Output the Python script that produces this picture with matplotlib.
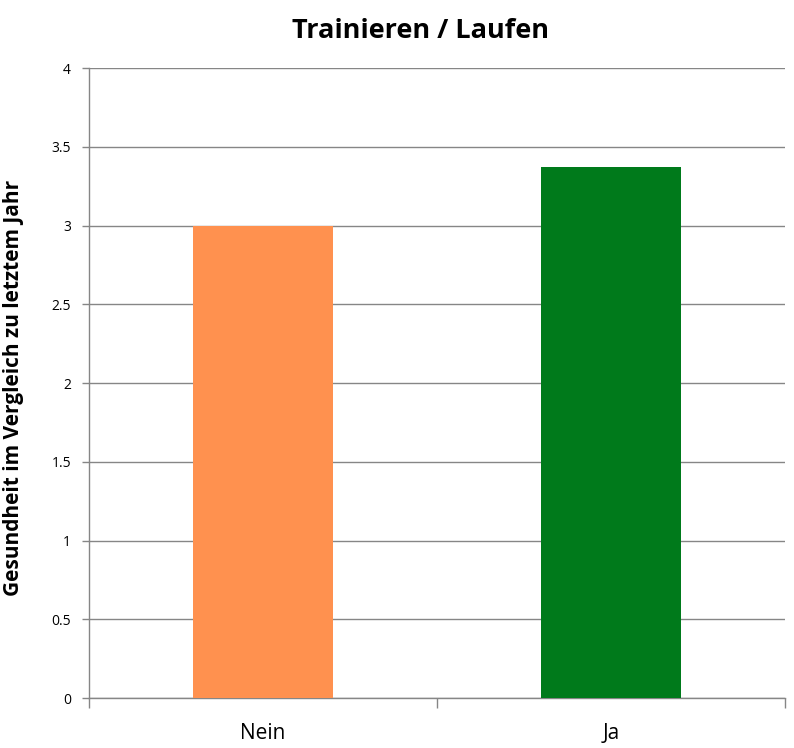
import numpy as np
import matplotlib.pyplot as plt

# data
categories = ["Nein", "Ja"]
values = [3.0, 3.37]
bar_colors = ["#FF914F", "#007A1B"]
y_ticks = [0, 0.5, 1, 1.5, 2, 2.5, 3, 3.5, 4]
y_tick_labels = ["0", "0.5", "1", "1.5", "2", "2.5", "3", "3.5", "4"]

plt.rcParams['font.family'] = ['Open Sans', 'DejaVu Sans']

fig = plt.figure(figsize=(7.94, 7.48), dpi=100)
ax = fig.add_axes([0.1121, 0.0668, 0.8766, 0.8422])

x = np.arange(len(categories))
ax.bar(x, values, width=0.4, color=bar_colors, zorder=3)

ax.set_xlim(-0.5, len(categories) - 0.5)
ax.set_ylim(0, 4)
ax.set_yticks(y_ticks)
ax.set_yticklabels(y_tick_labels, fontsize=10)
ax.set_xticks(x)
ax.set_xticklabels(categories, fontsize=15)
ax.set_xticks(np.arange(-0.5, len(categories), 1.0), minor=True)

grid_col = "#868686"
ax.grid(axis='y', color=grid_col, linewidth=1, zorder=0)
for side in ['top', 'right']:
    ax.spines[side].set_visible(False)
for side in ['left', 'bottom']:
    ax.spines[side].set_color(grid_col)
    ax.spines[side].set_linewidth(1)

ax.tick_params(axis='x', which='major', length=0, pad=18)
ax.tick_params(axis='x', which='minor', length=7, color=grid_col, width=1)
ax.tick_params(axis='y', length=5, color=grid_col, width=1, pad=8)

ax.set_ylabel("Gesundheit im Vergleich zu letztem Jahr", fontsize=15,
              fontweight='bold', labelpad=20, y=0.493)
fig.text(420 / 794, 0.949, "Trainieren / Laufen", fontsize=19.5,
         fontweight='bold', ha='center', va='baseline')

fig.savefig("out.png", dpi=100)
